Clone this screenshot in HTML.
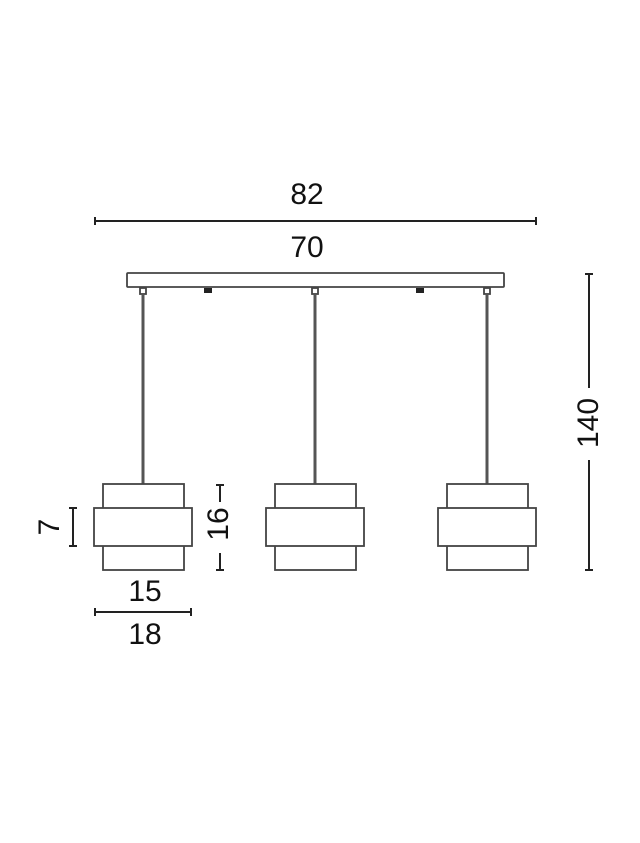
<!DOCTYPE html>
<html><head><style>html,body{margin:0;padding:0;background:#fff}svg{display:block}</style></head>
<body>
<svg width="640" height="843" viewBox="0 0 640 843" xmlns="http://www.w3.org/2000/svg">
<g font-family="Liberation Sans, Arial, sans-serif" font-size="30" fill="#111" text-anchor="middle">
<text x="307" y="204">82</text>
<text x="307" y="257">70</text>
<text x="145" y="601">15</text>
<text x="145" y="644">18</text>
<text transform="translate(59,527) rotate(-90)">7</text>
<text transform="translate(228,524) rotate(-90)">16</text>
<text transform="translate(598,423) rotate(-90)">140</text>
</g>
<g stroke="#222" stroke-width="2" fill="none">
<line x1="95" y1="221" x2="536" y2="221"/>
<line x1="95" y1="217" x2="95" y2="225"/>
<line x1="536" y1="217" x2="536" y2="225"/>
<line x1="95" y1="612" x2="191" y2="612"/>
<line x1="95" y1="608" x2="95" y2="616"/>
<line x1="191" y1="608" x2="191" y2="616"/>
<line x1="73" y1="508" x2="73" y2="546"/>
<line x1="69" y1="508" x2="77" y2="508"/>
<line x1="69" y1="546" x2="77" y2="546"/>
<line x1="220" y1="485" x2="220" y2="502"/>
<line x1="220" y1="553" x2="220" y2="570"/>
<line x1="216" y1="485" x2="224" y2="485"/>
<line x1="216" y1="570" x2="224" y2="570"/>
<line x1="589" y1="274" x2="589" y2="388"/>
<line x1="589" y1="460" x2="589" y2="570"/>
<line x1="585" y1="274" x2="593" y2="274"/>
<line x1="585" y1="570" x2="593" y2="570"/>
</g>
<g stroke="#444" stroke-width="1.8" fill="#fff">
<rect x="127" y="273" width="377" height="14" rx="1"/>
<rect x="140" y="288" width="6" height="6"/>
<rect x="312" y="288" width="6" height="6"/>
<rect x="484" y="288" width="6" height="6"/>
</g>
<g fill="#222">
<rect x="204" y="288" width="8" height="5"/>
<rect x="416" y="288" width="8" height="5"/>
</g>
<g stroke="#555" stroke-width="3">
<line x1="143" y1="294" x2="143" y2="484"/>
<line x1="315" y1="294" x2="315" y2="484"/>
<line x1="487" y1="294" x2="487" y2="484"/>
</g>
<g stroke="#444" stroke-width="1.8" fill="#fff">
<rect x="103" y="484" width="81" height="86"/>
<rect x="94" y="508" width="98" height="38"/>
<rect x="275" y="484" width="81" height="86"/>
<rect x="266" y="508" width="98" height="38"/>
<rect x="447" y="484" width="81" height="86"/>
<rect x="438" y="508" width="98" height="38"/>
</g>
</svg>
</body></html>
